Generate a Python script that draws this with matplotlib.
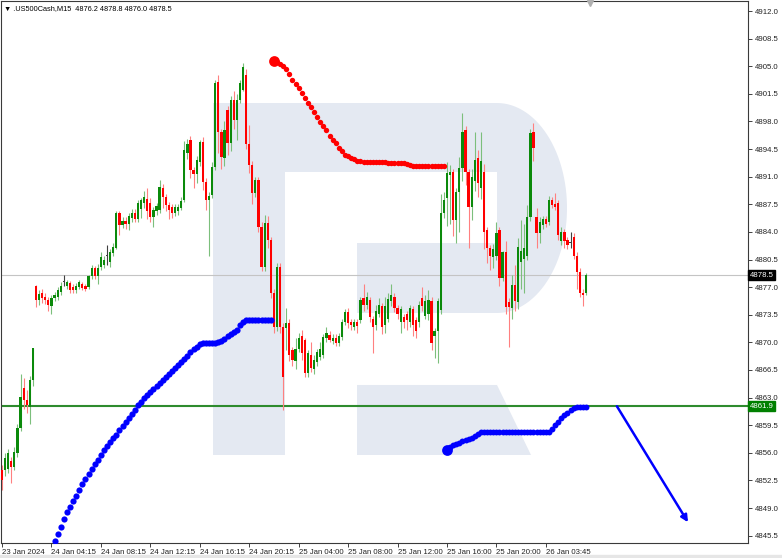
import numpy as np
import matplotlib.pyplot as plt
from matplotlib.patches import Polygon, Rectangle
from matplotlib.transforms import blended_transform_factory

plt.rcParams['font.family'] = ['Liberation Sans', 'DejaVu Sans']

# M15 candles, one row per session chunk
opens = [4853.8, 4853.8, 4854.0, 4855.0, 4854.2, 4856.0, 4859.2, 4864.2, 4862.7, 4861.8, 4865.2,
         4877.1, 4875.4, 4876.3, 4875.8, 4875.4, 4874.6, 4875.6, 4875.8, 4876.4, 4877.6,
         4877.2, 4877.5, 4877.0, 4876.6, 4877.0, 4877.4, 4877.1, 4877.0, 4878.4, 4879.4,
         4878.4, 4879.6, 4879.8, 4881.0, 4880.2, 4881.3, 4882.0, 4886.4, 4884.9, 4885.4,
         4885.0, 4885.8, 4886.4, 4885.7, 4886.9, 4887.7, 4888.2, 4887.7, 4885.9, 4886.6,
         4886.8, 4889.6, 4888.4, 4887.4, 4887.2, 4886.4, 4886.6, 4887.0, 4888.0, 4894.0,
         4895.6, 4891.8, 4891.4, 4892.8, 4895.4, 4890.3, 4888.0, 4888.7, 4892.2, 4903.0,
         4896.7, 4893.4, 4899.5, 4895.3, 4900.7, 4898.2, 4900.7, 4902.0, 4903.9, 4895.1,
         4892.5, 4888.9, 4890.6, 4884.6, 4879.6, 4885.1, 4883.0, 4876.3, 4872.0, 4879.6,
         4872.0, 4871.8, 4872.5, 4869.0, 4867.6, 4869.2, 4870.8, 4870.3, 4866.1, 4868.4,
         4866.6, 4867.5, 4868.2, 4868.4, 4870.5, 4870.9, 4870.2, 4870.6, 4869.9, 4870.7,
         4872.6, 4873.8, 4872.6, 4872.0, 4872.6, 4872.8, 4875.6, 4874.8, 4875.4, 4872.9,
         4872.2, 4873.6, 4874.6, 4872.2, 4873.0, 4875.2, 4875.8, 4874.4, 4872.6, 4873.2,
         4873.6, 4872.6, 4874.2, 4872.8, 4872.6, 4875.6, 4873.4, 4873.6, 4875.2, 4870.8,
         4871.4, 4874.1, 4886.4, 4888.3, 4891.2, 4891.6, 4885.5, 4889.0, 4892.1, 4896.9,
         4891.6, 4887.2, 4890.4, 4893.4, 4889.6, 4891.6, 4884.2, 4882.0, 4880.8, 4880.9,
         4884.2, 4878.2, 4881.5, 4875.1, 4874.4, 4877.3, 4875.1, 4880.2, 4880.6, 4881.0,
         4885.9, 4896.7, 4885.9, 4883.9, 4884.9, 4885.7, 4885.3, 4888.0, 4887.6, 4887.7,
         4882.9, 4884.0, 4883.0, 4882.6, 4883.4, 4881.0, 4878.9, 4876.3, 4876.2]
highs = [4854.5, 4856.0, 4856.5, 4855.5, 4856.8, 4859.6, 4866.0, 4865.5, 4864.0, 4865.8, 4869.3,
         4877.3, 4876.6, 4876.8, 4876.2, 4875.8, 4876.0, 4876.4, 4877.0, 4877.6, 4878.6,
         4877.9, 4877.8, 4877.4, 4877.5, 4877.9, 4877.7, 4877.4, 4878.6, 4879.8, 4879.7,
         4879.9, 4881.4, 4880.9, 4882.3, 4881.8, 4882.6, 4886.6, 4886.6, 4885.9, 4885.9,
         4886.4, 4886.9, 4886.9, 4888.0, 4888.3, 4889.2, 4889.6, 4888.3, 4887.2, 4887.7,
         4890.6, 4890.1, 4888.8, 4887.8, 4887.6, 4887.5, 4887.6, 4888.4, 4895.5, 4895.8,
         4896.2, 4892.2, 4893.6, 4895.6, 4896.0, 4890.8, 4889.1, 4892.8, 4903.2, 4903.9,
         4897.0, 4898.0, 4899.9, 4901.2, 4901.9, 4901.5, 4903.2, 4905.4, 4904.6, 4897.5,
         4893.0, 4891.0, 4891.0, 4885.2, 4886.2, 4886.0, 4883.4, 4876.8, 4880.1, 4880.1,
         4872.4, 4874.4, 4872.9, 4869.4, 4870.6, 4871.2, 4871.6, 4870.6, 4869.0, 4870.0,
         4868.4, 4869.2, 4870.0, 4871.0, 4872.0, 4871.4, 4871.0, 4871.0, 4871.2, 4873.0,
         4874.2, 4874.3, 4873.0, 4873.0, 4873.0, 4875.8, 4877.4, 4876.4, 4875.8, 4873.4,
         4874.8, 4875.6, 4875.0, 4875.8, 4876.2, 4877.4, 4876.2, 4874.8, 4874.6, 4873.6,
         4874.0, 4874.8, 4874.6, 4873.2, 4875.2, 4877.0, 4876.0, 4876.6, 4875.8, 4871.8,
         4875.6, 4888.8, 4889.0, 4892.9, 4892.5, 4892.0, 4889.6, 4893.5, 4899.1, 4897.4,
         4892.0, 4892.0, 4896.7, 4894.4, 4896.7, 4892.6, 4884.6, 4882.4, 4882.5, 4885.2,
         4884.6, 4881.6, 4882.8, 4875.6, 4878.6, 4879.8, 4883.2, 4885.5, 4885.0, 4887.4,
         4897.0, 4897.8, 4887.0, 4885.9, 4886.0, 4886.0, 4888.6, 4888.4, 4888.9, 4888.0,
         4884.6, 4884.4, 4883.4, 4884.0, 4883.8, 4881.4, 4879.4, 4876.8, 4878.8]
lows = [4851.3, 4853.0, 4853.5, 4852.2, 4853.8, 4855.5, 4858.8, 4861.5, 4861.0, 4859.6, 4864.5,
        4874.5, 4874.8, 4875.0, 4874.9, 4874.0, 4873.6, 4875.2, 4875.4, 4876.0, 4877.2,
        4876.8, 4876.2, 4876.2, 4876.3, 4876.8, 4876.6, 4876.5, 4876.8, 4878.0, 4878.0,
        4877.4, 4879.2, 4879.4, 4879.8, 4879.6, 4880.9, 4881.8, 4883.6, 4884.5, 4884.4,
        4884.3, 4885.2, 4885.2, 4885.2, 4885.8, 4887.0, 4885.6, 4885.3, 4884.6, 4886.1,
        4886.4, 4887.0, 4886.6, 4885.6, 4885.8, 4886.0, 4886.2, 4886.8, 4887.8, 4893.2,
        4890.8, 4889.6, 4890.2, 4892.3, 4889.3, 4886.8, 4880.9, 4888.3, 4891.8, 4894.0,
        4892.0, 4892.4, 4893.8, 4894.3, 4897.0, 4895.6, 4900.3, 4901.8, 4894.5, 4891.5,
        4887.5, 4888.4, 4884.0, 4879.0, 4879.0, 4882.0, 4875.6, 4871.2, 4871.5, 4871.2,
        4861.4, 4869.0, 4867.6, 4867.0, 4866.6, 4868.8, 4867.8, 4865.6, 4865.6, 4866.2,
        4866.0, 4867.0, 4867.8, 4868.0, 4870.0, 4870.0, 4869.8, 4869.5, 4869.6, 4870.3,
        4872.2, 4871.8, 4871.6, 4871.6, 4871.2, 4872.4, 4874.0, 4874.2, 4872.6, 4868.6,
        4871.6, 4873.2, 4871.0, 4871.2, 4872.6, 4874.6, 4873.8, 4873.0, 4871.2, 4871.8,
        4871.6, 4872.0, 4870.8, 4870.6, 4872.0, 4874.0, 4873.0, 4872.8, 4869.0, 4868.0,
        4867.4, 4873.6, 4885.8, 4884.8, 4885.0, 4883.5, 4882.6, 4884.0, 4890.4, 4890.0,
        4882.0, 4885.5, 4889.2, 4888.4, 4888.2, 4881.8, 4880.0, 4879.2, 4879.4, 4880.5,
        4877.2, 4877.8, 4873.6, 4869.4, 4873.0, 4874.0, 4874.2, 4876.8, 4876.2, 4880.4,
        4885.4, 4893.0, 4882.0, 4882.6, 4884.4, 4884.6, 4884.9, 4887.0, 4886.8, 4883.0,
        4882.4, 4882.0, 4881.8, 4882.0, 4880.6, 4876.8, 4875.8, 4874.6, 4876.0]
closes = [4852.5, 4855.3, 4856.0, 4854.2, 4856.1, 4859.2, 4863.1, 4862.7, 4862.1, 4865.2, 4869.3,
          4875.4, 4876.1, 4875.6, 4875.4, 4874.8, 4875.6, 4876.0, 4876.6, 4877.2, 4877.6,
          4877.6, 4876.6, 4876.6, 4877.2, 4877.6, 4876.9, 4876.8, 4878.4, 4879.4, 4878.4,
          4879.4, 4880.8, 4880.4, 4881.0, 4881.4, 4882.1, 4886.4, 4884.9, 4885.4, 4885.0,
          4886.0, 4886.4, 4885.6, 4887.7, 4888.0, 4888.4, 4886.6, 4885.9, 4886.8, 4887.3,
          4889.7, 4888.4, 4887.4, 4886.8, 4886.4, 4887.2, 4887.2, 4887.9, 4894.4, 4895.2,
          4891.8, 4891.4, 4893.1, 4895.4, 4890.3, 4888.0, 4888.6, 4892.2, 4902.9, 4896.7,
          4893.5, 4896.9, 4895.3, 4900.7, 4898.2, 4900.7, 4902.9, 4904.9, 4895.1, 4892.5,
          4888.9, 4890.6, 4884.6, 4879.6, 4885.1, 4883.0, 4876.3, 4872.0, 4879.6, 4872.0,
          4865.6, 4872.5, 4868.4, 4867.8, 4869.2, 4870.5, 4868.6, 4866.1, 4868.6, 4866.8,
          4867.8, 4868.8, 4869.2, 4870.7, 4871.2, 4870.3, 4870.6, 4869.9, 4870.8, 4872.6,
          4873.8, 4872.4, 4872.2, 4872.6, 4872.1, 4875.4, 4874.8, 4875.8, 4873.2, 4872.0,
          4874.0, 4874.8, 4872.0, 4874.6, 4875.5, 4876.0, 4874.4, 4873.6, 4874.2, 4872.6,
          4872.8, 4874.4, 4872.2, 4871.4, 4874.8, 4874.6, 4875.2, 4875.4, 4869.9, 4871.4,
          4875.2, 4886.4, 4888.0, 4891.5, 4891.6, 4885.5, 4889.0, 4892.1, 4896.7, 4891.6,
          4887.2, 4891.0, 4893.1, 4890.2, 4893.0, 4884.0, 4882.0, 4880.9, 4881.8, 4883.9,
          4878.2, 4881.5, 4874.5, 4874.5, 4877.3, 4875.2, 4882.1, 4881.6, 4882.0, 4885.9,
          4896.5, 4894.6, 4883.9, 4885.3, 4885.6, 4885.0, 4888.0, 4887.4, 4887.2, 4883.6,
          4884.0, 4882.8, 4882.4, 4882.6, 4881.0, 4878.9, 4876.3, 4876.0, 4878.5]

# red dotted indicator (starts at bar 88)
red_start = 88
red_dots = [4905.7, 4905.5, 4905.3, 4905.0, 4904.7, 4904.0, 4903.3, 4902.7, 4902.2, 4901.6,
            4901.0, 4900.4, 4899.8, 4899.2, 4898.6, 4897.9, 4897.4, 4896.9, 4896.2, 4895.7,
            4895.3, 4894.7, 4894.2, 4893.8, 4893.6, 4893.4, 4893.2, 4893.0, 4893.0, 4892.9,
            4892.9, 4892.9, 4892.9, 4892.8, 4892.8, 4892.8, 4892.8, 4892.7, 4892.7, 4892.7,
            4892.7, 4892.7, 4892.7, 4892.6, 4892.5, 4892.4, 4892.3, 4892.3, 4892.3, 4892.3,
            4892.3, 4892.3, 4892.3, 4892.3, 4892.3, 4892.3]

# blue dotted indicator, first leg (starts at bar 17)
blue1_start = 17
blue1_dots = [4844.8, 4845.65, 4846.6, 4847.55, 4848.44, 4849.1, 4849.9, 4850.58, 4851.29, 4851.99,
              4852.68, 4853.37, 4854.0, 4854.55, 4855.09, 4855.73, 4856.36, 4856.87, 4857.31, 4857.84,
              4858.3, 4858.83, 4859.36, 4859.88, 4860.44, 4860.97, 4861.49, 4862.04, 4862.44, 4862.89,
              4863.29, 4863.74, 4864.09, 4864.53, 4864.85, 4865.23, 4865.61, 4866.04, 4866.4, 4866.75,
              4867.07, 4867.45, 4867.86, 4868.27, 4868.72, 4869.1, 4869.45, 4869.77, 4869.95, 4869.96,
              4869.96, 4869.96, 4869.96, 4870.05, 4870.21, 4870.49, 4870.78, 4871.06, 4871.34, 4871.59,
              4872.2, 4872.58, 4872.8, 4872.84, 4872.84, 4872.84, 4872.84, 4872.84, 4872.84, 4872.84,
              4872.84]

# blue dotted indicator, second leg (starts at bar 144)
blue2_start = 144
blue2_dots = [4856.42, 4856.74, 4856.93, 4857.1, 4857.25, 4857.5, 4857.65, 4857.75, 4857.91, 4858.11,
              4858.39, 4858.58, 4858.64, 4858.64, 4858.64, 4858.64, 4858.64, 4858.64, 4858.64, 4858.64,
              4858.64, 4858.64, 4858.64, 4858.64, 4858.64, 4858.64, 4858.64, 4858.64, 4858.64, 4858.64,
              4858.64, 4858.64, 4858.64, 4858.64, 4858.96, 4859.59, 4859.97, 4860.42, 4860.77, 4861.05,
              4861.46, 4861.68, 4861.81, 4861.85, 4861.85, 4861.85]

level = 4861.9
last_price = 4878.5
arrow_from = (199, 4861.9)
arrow_to = (222, 4847.2)

tick_pos = [0, 16, 32, 48, 64, 80, 96, 112, 128, 144, 160, 176]
tick_labels = ['23 Jan 2024', '24 Jan 04:15', '24 Jan 08:15', '24 Jan 12:15', '24 Jan 16:15',
               '24 Jan 20:15', '25 Jan 04:00', '25 Jan 08:00', '25 Jan 12:00', '25 Jan 16:00',
               '25 Jan 20:00', '26 Jan 03:45']

fig = plt.figure(figsize=(7.82, 5.58), dpi=100)
ax = fig.add_axes([1 / 782, 15 / 558, 747 / 782, 542 / 558])
ax.set_xlim(-0.324, 241.42)
ax.set_ylim(4844.57, 4913.27)


def px(x, y):
    # screen pixel -> data coords, used for the background logo only
    return ((x - 2) / 3.09, 4912 - (y - 11) / 7.89)


logo = '#e4e9f2'
shapes = [
    [(213, 103), (285, 103), (285, 455), (213, 455)],
    [(285, 103), (497, 103), (497, 172), (285, 172)],
    [(357, 243), (497, 243), (497, 313), (357, 313)],
    [(357, 385), (497, 385), (531, 455), (357, 455)],
]
t = np.linspace(-np.pi / 2, np.pi / 2, 60)
shapes.append([(497, 103)] + list(zip(497 + 70 * np.cos(t), 208 - 105 * np.sin(t))) + [(497, 313)])
for s in shapes:
    ax.add_patch(Polygon([px(a, b) for a, b in s], closed=True, fc=logo, ec='none', zorder=0))

ax.axhline(last_price, color='#c4c4c4', lw=0.8, zorder=1)
ax.axhline(level, color='#2e8b2e', lw=1.5, zorder=1)

# candles
o = np.array(opens); h = np.array(highs); l = np.array(lows); c = np.array(closes)
x = np.arange(len(o))
body_col = np.where(c > o, '#0b8a0b', np.where(c < o, '#ff0000', '#404040'))
wick_col = np.where(c > o, '#7cbf7c', np.where(c < o, '#ff8080', '#404040'))
ax.vlines(x, l, h, colors=wick_col, lw=0.8, zorder=2)
bot = np.minimum(o, c)
hgt = np.maximum(np.abs(c - o), 0.12)
ax.bar(x, hgt, bottom=bot, width=0.72, color=body_col, zorder=3)

# indicators
rx = np.arange(red_start, red_start + len(red_dots))
ax.scatter(rx, red_dots, s=15, color='#ff0000', lw=0, zorder=4)
ax.scatter(rx[0], red_dots[0], s=60, color='#ff0000', lw=0, zorder=4)
bx1 = np.arange(blue1_start, blue1_start + len(blue1_dots))
ax.scatter(bx1, blue1_dots, s=20, color='#0000ff', lw=0, zorder=4)
bx2 = np.arange(blue2_start, blue2_start + len(blue2_dots))
ax.scatter(bx2, blue2_dots, s=18, color='#0000ff', lw=0, zorder=4)
ax.scatter(bx2[0], blue2_dots[0], s=60, color='#0000ff', lw=0, zorder=4)

ax.annotate('', xy=arrow_to, xytext=arrow_from,
            arrowprops=dict(arrowstyle='-|>', color='#0000ff', lw=1.8, mutation_scale=10,
                            shrinkA=0, shrinkB=0), zorder=5)

# axes styling
for sp in ax.spines.values():
    sp.set_color('#3a3a3a')
    sp.set_linewidth(0.8)
ax.yaxis.tick_right()
ax.set_yticks(np.arange(4845.5, 4912.1, 3.5))
ax.set_yticklabels(['%.1f' % v for v in np.arange(4845.5, 4912.1, 3.5)])
ax.tick_params(axis='y', length=3, pad=2, labelsize=5.6, colors='#222222', width=0.6)
ax.set_xticks(tick_pos)
ax.set_xticklabels(tick_labels, ha='left')
ax.tick_params(axis='x', length=3, pad=1.5, labelsize=5.6, colors='#222222', width=0.6)

tr = blended_transform_factory(ax.transAxes, ax.transData)
ax.text(1.0025, last_price, '%.1f' % last_price, transform=tr, fontsize=5.6, color='white',
        va='center', ha='left', zorder=6,
        bbox=dict(boxstyle='square,pad=0.2', fc='black', ec='black'))
ax.text(1.0025, level, '%.1f' % level, transform=tr, fontsize=5.6, color='white',
        va='center', ha='left', zorder=6,
        bbox=dict(boxstyle='square,pad=0.2', fc='#008000', ec='#008000'))

ax.text(3 / 747, 1 - 8 / 542, '\u25bc .US500Cash,M15  4876.2 4878.8 4876.0 4878.5',
        transform=ax.transAxes, fontsize=5.3, va='center', ha='left', color='black',
        family=['Liberation Sans', 'DejaVu Sans'])
ax.plot([190.3], [4913.0], marker='v', color='#b0b0b0', ms=5, clip_on=False, zorder=6)

fig.patches.append(Rectangle((0, 0), 1, 3 / 558, transform=fig.transFigure,
                             color='#e6e6e6', zorder=0))

fig.savefig('out.png', dpi=100)
